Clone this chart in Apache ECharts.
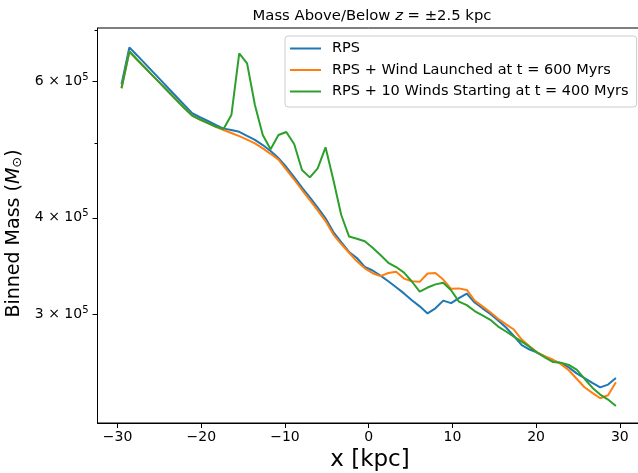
<!DOCTYPE html>
<html><head><meta charset="utf-8">
<script src="https://cdn.jsdelivr.net/npm/echarts@6/dist/echarts.min.js"></script>
<style>html,body{margin:0;padding:0;background:#fff}#c{width:638px;height:473px}</style>
</head><body><div id="c"></div>
<script>
// x positions of the bins [kpc]
const xValues = [
 -29.531,-28.594,-27.656,-26.719,-25.781,-24.844,-23.906,-22.969,-22.031,-21.094,
 -20.156,-19.219,-18.281,-17.344,-16.406,-15.469,-14.531,-13.594,-12.656,-11.719,
 -10.781,-9.844,-8.906,-7.969,-7.031,-6.094,-5.156,-4.219,-3.281,-2.344,
 -1.406,-0.469,0.469,1.406,2.344,3.281,4.219,5.156,6.094,7.031,
 7.969,8.906,9.844,10.781,11.719,12.656,13.594,14.531,15.469,16.406,
 17.344,18.281,19.219,20.156,21.094,22.031,22.969,23.906,24.844,25.781,
 26.719,27.656,28.594,29.531
];
// Binned mass [M_sun]
const rps = [
 595400,664400,648900,633300,617800,602900,588100,573800,559700,546200,
 539700,533700,527500,521700,519500,516800,510600,504600,496800,488000,
 477900,465300,451600,437700,425100,412300,399400,383300,372000,361300,
 354800,345400,341800,336600,331000,325200,319300,312900,307200,300800,
 305400,312500,310200,314900,319100,310700,305400,300400,294600,288400,
 281200,273700,270100,267700,264500,261500,259200,256100,251600,248100,
 244500,241300,243300,248100
];
const rpsWind = [
 588300,656500,640500,625400,610500,596100,581900,568200,554800,542500,
 536100,530500,524500,519500,514900,510200,505000,499200,492000,484000,
 475700,461800,448300,434500,421700,409000,396100,380500,369900,360400,
 351300,344100,339100,336200,339300,340600,333700,331000,330500,338800,
 339200,332700,323700,324100,322600,312600,307200,301800,296000,291100,
 286700,278200,272700,267700,264600,262000,258600,253900,247600,241400,
 237400,233600,235700,245000
];
const rps10Winds = [
 588300,656500,640500,625400,610500,596100,581900,568200,554800,542500,
 536100,530500,525000,521100,543300,653000,633800,559700,511900,490500,
 511900,516500,498300,461200,451200,463500,493400,447600,403300,378200,
 375800,372900,365900,357900,349800,345400,339700,330800,320900,324900,
 328000,329500,322300,311600,308300,302900,299100,295100,289200,285000,
 280700,276600,272200,267400,263600,260200,259600,258000,254400,247600,
 241100,236200,232700,228200
];
const seriesNames = ['RPS', 'RPS + Wind Launched at t = 600 Myrs', 'RPS + 10 Winds Starting at t = 400 Myrs'];
const xTicks = [-30, -20, -10, 0, 10, 20, 30];
const yMajorTicks = [300000, 400000, 600000];
const yMinorTicks = [500000, 700000];

const colors = ['#1f77b4', '#ff7f0e', '#2ca02c'];
const FONT = 'DejaVu Sans';
const Y_MIN = 216990, Y_MAX = 704170;

const chart = echarts.init(document.getElementById('c'), null, {renderer: 'canvas'});
const allSeries = [rps, rpsWind, rps10Winds].map((vals, s) => ({
  name: seriesNames[s],
  type: 'line',
  data: xValues.map((x, i) => [x, vals[i]]),
  showSymbol: false,
  symbol: 'none',
  lineStyle: {color: colors[s], width: 2},
  itemStyle: {color: colors[s]},
  animation: false,
  z: 2 + s
}));

chart.setOption({
  backgroundColor: '#fff',
  animation: false,
  title: {
    text: '{n|Mass Above/Below }{i|z}{n| = ±2.5 kpc}',
    left: 367, top: 4, textAlign: 'center',
    textStyle: {
      fontWeight: 'normal',
      rich: {
        n: {fontFamily: FONT, fontSize: 14.8, fontWeight: 'normal', color: '#000'},
        i: {fontFamily: FONT, fontSize: 14.8, fontWeight: 'normal', fontStyle: 'italic', color: '#000'}
      }
    }
  },
  grid: {left: 97.5, top: 28, width: 545, height: 395, outerBoundsMode: 'none', containLabel: false,
    show: true, borderColor: '#000', borderWidth: 1, backgroundColor: 'transparent'},
  legend: {
    orient: 'vertical', left: 285, top: 36,
    data: seriesNames.map(n => ({name: n, icon: 'rect'})),
    itemWidth: 31, itemHeight: 2, itemGap: 4.5,
    padding: [4, 8, 7, 5],
    backgroundColor: 'rgba(255,255,255,0.8)',
    borderColor: '#cccccc', borderWidth: 1, borderRadius: 3,
    textStyle: {fontFamily: FONT, fontSize: 14.5, color: '#000', lineHeight: 17, padding: [0, 0, 0, 6]},
    selectedMode: false
  },
  xAxis: {
    type: 'value', min: -32.4, max: 32.71,
    name: 'x [kpc]', nameLocation: 'middle', nameGap: 21,
    nameTextStyle: {fontFamily: FONT, fontSize: 23, color: '#000'},
    axisLine: {show: true, onZero: false, lineStyle: {color: '#000', width: 1}},
    axisTick: {show: true, customValues: xTicks, length: 5, lineStyle: {color: '#000', width: 1}},
    axisLabel: {customValues: xTicks, fontFamily: FONT, fontSize: 14, color: '#000', margin: 7,
      formatter: v => String(v).replace('-', '\u2212')},
    splitLine: {show: false}
  },
  yAxis: [{
    type: 'log', logBase: 10, min: Y_MIN, max: Y_MAX,
    name: '{a|Binned Mass (}{i|M}{s|⊙}{a|)}', nameLocation: 'middle', nameGap: 64,
    nameTextStyle: {
      padding: [0, 16, 0, 0],
      rich: {
        a: {fontFamily: FONT, fontSize: 19, color: '#000'},
        i: {fontFamily: FONT, fontSize: 19, fontStyle: 'italic', color: '#000'},
        s: {fontFamily: FONT, fontSize: 13, color: '#000', verticalAlign: 'bottom', padding: [6, 0, 0, 0]}
      }
    },
    axisLine: {show: true, onZero: false, lineStyle: {color: '#000', width: 1}},
    axisTick: {show: true, customValues: yMajorTicks, length: 5, lineStyle: {color: '#000', width: 1}},
    axisLabel: {
      customValues: yMajorTicks, margin: 9,
      formatter: v => '{a|' + Math.round(v / 1e5) + ' × 10}{b|5}',
      rich: {
        a: {fontFamily: FONT, fontSize: 14, color: '#000', lineHeight: 18},
        b: {fontFamily: FONT, fontSize: 10, color: '#000', verticalAlign: 'top', lineHeight: 10}
      }
    },
    splitLine: {show: false}, minorTick: {show: false}
  }, {
    type: 'log', logBase: 10, min: Y_MIN, max: Y_MAX, position: 'left',
    axisLine: {show: false, onZero: false},
    axisTick: {show: true, customValues: yMinorTicks, length: 3, lineStyle: {color: '#000', width: 1}},
    axisLabel: {show: false},
    splitLine: {show: false}
  }],
  series: allSeries
});
</script>
</body></html>
